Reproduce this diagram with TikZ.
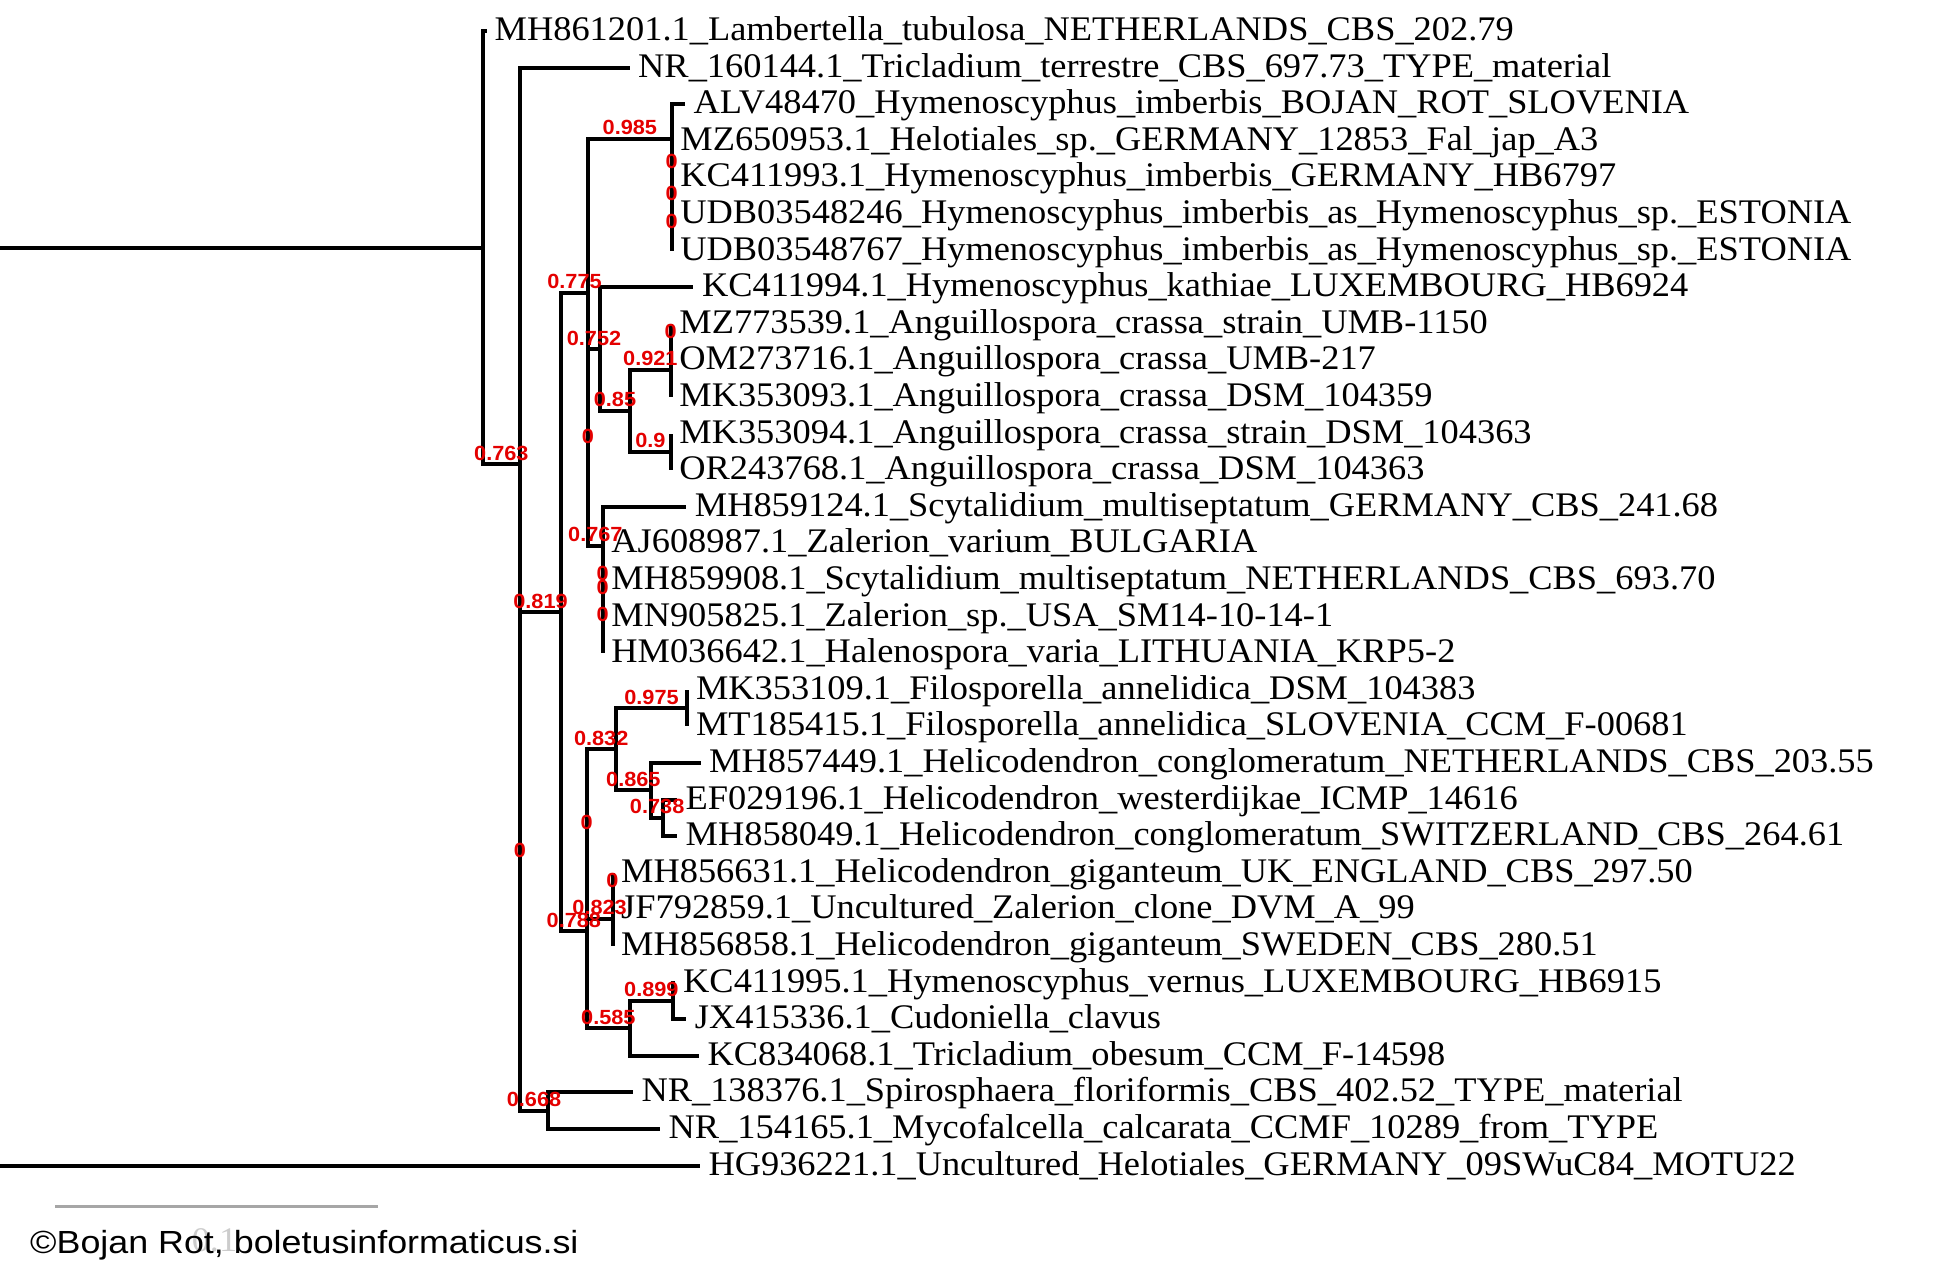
\documentclass[tikz,border=0pt]{standalone}
\usepackage{fontspec}
\setmainfont{Liberation Serif}[FakeStretch=1.055]
\newfontfamily\lblfont{Liberation Sans}[FakeStretch=1.06]
\newfontfamily\credfont{Liberation Sans}[FakeStretch=1.12]
\usetikzlibrary{calc}
\definecolor{suppred}{RGB}{228,0,0}
\begin{document}
\begin{tikzpicture}[x=1pt,y=-1pt,
  edge/.style={line width=4pt, black, line join=miter},
  tipl/.style={anchor=base west, inner sep=0pt, font=\fontsize{34.5}{38}\selectfont},
  sup/.style={inner sep=0pt, yshift=11pt, text=suppred, font=\lblfont\bfseries\fontsize{20.5}{22}\selectfont},
  scalebar/.style={line width=3.5pt, gray!70}]
\useasboundingbox (0,0) rectangle (1953,1275);
% ---------- internal nodes ----------
\coordinate (root) at (-4,706.67);
\coordinate (A)  at (482.7,247.74);
\coordinate (B)  at (520,464.49);
\coordinate (B2) at (520,861.37);
\coordinate (C)  at (561,612.03);
\coordinate (D)  at (588,292.92);
\coordinate (S)  at (671.7,138.51);
\coordinate (P1) at (671.7,172.83);
\coordinate (P2) at (671.7,204.85);
\coordinate (P3) at (671.7,232.3);
\coordinate (D2) at (588,447.33);
\coordinate (E)  at (600,348.96);
\coordinate (F)  at (630,410.73);
\coordinate (G)  at (670.7,369.55);
\coordinate (G2) at (670.7,342.1);
\coordinate (H)  at (670.7,451.9);
\coordinate (T)  at (602.7,545.69);
\coordinate (T2) at (602.7,584.58);
\coordinate (T3) at (602.7,625.75);
\coordinate (T4) at (602.7,598.3);
\coordinate (R)  at (586.7,931.14);
\coordinate (R2) at (586.7,833.92);
\coordinate (V)  at (615.7,749.28);
\coordinate (X)  at (687.3,708.1);
\coordinate (Y)  at (651,790.45);
\coordinate (Z)  at (663.3,817.9);
\coordinate (U)  at (612.5,918.55);
\coordinate (U2) at (612.5,891.1);
\coordinate (W)  at (630,1028.35);
\coordinate (AA) at (672.7,1000.9);
\coordinate (Q)  at (548,1110.7);
% ---------- tip ends ----------
\coordinate (e1)  at (486.5,31);
\coordinate (e2)  at (629.5,67.6);
\coordinate (e3)  at (685,104.2);
\coordinate (e4)  at (671.7,140.8);
\coordinate (e5)  at (671.7,177.4);
\coordinate (e6)  at (671.7,214.0);
\coordinate (e7)  at (671.7,250.6);
\coordinate (e8)  at (693.3,287.2);
\coordinate (e9)  at (670.7,323.8);
\coordinate (e10) at (670.7,360.4);
\coordinate (e11) at (670.7,397.0);
\coordinate (e12) at (670.7,433.6);
\coordinate (e13) at (670.7,470.2);
\coordinate (e14) at (686.2,506.8);
\coordinate (e15) at (602.7,543.4);
\coordinate (e16) at (602.7,580.0);
\coordinate (e17) at (602.7,616.6);
\coordinate (e18) at (602.7,653.2);
\coordinate (e19) at (687.3,689.8);
\coordinate (e20) at (687.3,726.4);
\coordinate (e21) at (700.5,763.0);
\coordinate (e22) at (677,799.6);
\coordinate (e23) at (677,836.2);
\coordinate (e24) at (612.5,872.8);
\coordinate (e25) at (612.5,909.4);
\coordinate (e26) at (612.5,946.0);
\coordinate (e27) at (674.5,982.6);
\coordinate (e28) at (686.2,1019.2);
\coordinate (e29) at (698.8,1055.8);
\coordinate (e30) at (632.8,1092.4);
\coordinate (e31) at (660,1129.0);
\coordinate (e32) at (699.8,1165.6);
% ---------- branches ----------
\draw[edge] (root) |- (A);  \draw[edge] (root) |- (e32);
\draw[edge] (A) |- (e1);    \draw[edge] (A) |- (B);
\draw[edge] (B) |- (e2);    \draw[edge] (B) |- (B2);
\draw[edge] (B2) |- (C);    \draw[edge] (B2) |- (Q);
\draw[edge] (C) |- (D);     \draw[edge] (C) |- (R);
\draw[edge] (D) |- (S);     \draw[edge] (D) |- (D2);
\draw[edge] (S) |- (e3);    \draw[edge] (S) |- (P1);
\draw[edge] (P1) |- (e4);   \draw[edge] (P1) |- (P2);
\draw[edge] (P2) |- (e5);   \draw[edge] (P2) |- (P3);
\draw[edge] (P3) |- (e6);   \draw[edge] (P3) |- (e7);
\draw[edge] (D2) |- (E);    \draw[edge] (D2) |- (T);
\draw[edge] (E) |- (e8);    \draw[edge] (E) |- (F);
\draw[edge] (F) |- (G);     \draw[edge] (F) |- (H);
\draw[edge] (G) |- (G2);    \draw[edge] (G) |- (e11);
\draw[edge] (G2) |- (e9);   \draw[edge] (G2) |- (e10);
\draw[edge] (H) |- (e12);   \draw[edge] (H) |- (e13);
\draw[edge] (T) |- (e14);   \draw[edge] (T) |- (T2);
\draw[edge] (T2) |- (e15);  \draw[edge] (T2) |- (T3);
\draw[edge] (T3) |- (T4);   \draw[edge] (T3) |- (e18);
\draw[edge] (T4) |- (e16);  \draw[edge] (T4) |- (e17);
\draw[edge] (R) |- (R2);    \draw[edge] (R) |- (W);
\draw[edge] (R2) |- (V);    \draw[edge] (R2) |- (U);
\draw[edge] (V) |- (X);     \draw[edge] (V) |- (Y);
\draw[edge] (X) |- (e19);   \draw[edge] (X) |- (e20);
\draw[edge] (Y) |- (e21);   \draw[edge] (Y) |- (Z);
\draw[edge] (Z) |- (e22);   \draw[edge] (Z) |- (e23);
\draw[edge] (U) |- (U2);    \draw[edge] (U) |- (e26);
\draw[edge] (U2) |- (e24);  \draw[edge] (U2) |- (e25);
\draw[edge] (W) |- (AA);    \draw[edge] (W) |- (e29);
\draw[edge] (AA) |- (e27);  \draw[edge] (AA) |- (e28);
\draw[edge] (Q) |- (e30);   \draw[edge] (Q) |- (e31);
% ---------- tip labels ----------
\tikzset{tipat/.style={xshift=8.5pt,yshift=-9.5pt}}
\node[tipl] (t1)  at ([xshift=8pt,yshift=-9.5pt]e1)  {MH861201.1\_Lambertella\_tubulosa\_NETHERLANDS\_CBS\_202.79};
\node[tipl] (t2)  at ([tipat]e2)  {NR\_160144.1\_Tricladium\_terrestre\_CBS\_697.73\_TYPE\_material};
\node[tipl] (t3)  at ([tipat]e3)  {ALV48470\_Hymenoscyphus\_imberbis\_BOJAN\_ROT\_SLOVENIA};
\node[tipl] (t4)  at ([tipat]e4)  {MZ650953.1\_Helotiales\_sp.\_GERMANY\_12853\_Fal\_jap\_A3};
\node[tipl] (t5)  at ([tipat]e5)  {KC411993.1\_Hymenoscyphus\_imberbis\_GERMANY\_HB6797};
\node[tipl] (t6)  at ([tipat]e6)  {UDB03548246\_Hymenoscyphus\_imberbis\_as\_Hymenoscyphus\_sp.\_ESTONIA};
\node[tipl] (t7)  at ([tipat]e7)  {UDB03548767\_Hymenoscyphus\_imberbis\_as\_Hymenoscyphus\_sp.\_ESTONIA};
\node[tipl] (t8)  at ([tipat]e8)  {KC411994.1\_Hymenoscyphus\_kathiae\_LUXEMBOURG\_HB6924};
\node[tipl] (t9)  at ([tipat]e9)  {MZ773539.1\_Anguillospora\_crassa\_strain\_UMB-1150};
\node[tipl] (t10) at ([tipat]e10) {OM273716.1\_Anguillospora\_crassa\_UMB-217};
\node[tipl] (t11) at ([tipat]e11) {MK353093.1\_Anguillospora\_crassa\_DSM\_104359};
\node[tipl] (t12) at ([tipat]e12) {MK353094.1\_Anguillospora\_crassa\_strain\_DSM\_104363};
\node[tipl] (t13) at ([tipat]e13) {OR243768.1\_Anguillospora\_crassa\_DSM\_104363};
\node[tipl] (t14) at ([tipat]e14) {MH859124.1\_Scytalidium\_multiseptatum\_GERMANY\_CBS\_241.68};
\node[tipl] (t15) at ([tipat]e15) {AJ608987.1\_Zalerion\_varium\_BULGARIA};
\node[tipl] (t16) at ([tipat]e16) {MH859908.1\_Scytalidium\_multiseptatum\_NETHERLANDS\_CBS\_693.70};
\node[tipl] (t17) at ([tipat]e17) {MN905825.1\_Zalerion\_sp.\_USA\_SM14-10-14-1};
\node[tipl] (t18) at ([tipat]e18) {HM036642.1\_Halenospora\_varia\_LITHUANIA\_KRP5-2};
\node[tipl] (t19) at ([tipat]e19) {MK353109.1\_Filosporella\_annelidica\_DSM\_104383};
\node[tipl] (t20) at ([tipat]e20) {MT185415.1\_Filosporella\_annelidica\_SLOVENIA\_CCM\_F-00681};
\node[tipl] (t21) at ([tipat]e21) {MH857449.1\_Helicodendron\_conglomeratum\_NETHERLANDS\_CBS\_203.55};
\node[tipl] (t22) at ([tipat]e22) {EF029196.1\_Helicodendron\_westerdijkae\_ICMP\_14616};
\node[tipl] (t23) at ([tipat]e23) {MH858049.1\_Helicodendron\_conglomeratum\_SWITZERLAND\_CBS\_264.61};
\node[tipl] (t24) at ([tipat]e24) {MH856631.1\_Helicodendron\_giganteum\_UK\_ENGLAND\_CBS\_297.50};
\node[tipl] (t25) at ([tipat]e25) {JF792859.1\_Uncultured\_Zalerion\_clone\_DVM\_A\_99};
\node[tipl] (t26) at ([tipat]e26) {MH856858.1\_Helicodendron\_giganteum\_SWEDEN\_CBS\_280.51};
\node[tipl] (t27) at ([tipat]e27) {KC411995.1\_Hymenoscyphus\_vernus\_LUXEMBOURG\_HB6915};
\node[tipl] (t28) at ([tipat]e28) {JX415336.1\_Cudoniella\_clavus};
\node[tipl] (t29) at ([tipat]e29) {KC834068.1\_Tricladium\_obesum\_CCM\_F-14598};
\node[tipl] (t30) at ([tipat]e30) {NR\_138376.1\_Spirosphaera\_floriformis\_CBS\_402.52\_TYPE\_material};
\node[tipl] (t31) at ([tipat]e31) {NR\_154165.1\_Mycofalcella\_calcarata\_CCMF\_10289\_from\_TYPE};
\node[tipl] (t32) at ([tipat]e32) {HG936221.1\_Uncultured\_Helotiales\_GERMANY\_09SWuC84\_MOTU22};
% ---------- support values ----------
\node[sup] (lB)  at ($(A|-B)!.5!(B)$)   {0.763};
\node[sup] (lB2) at ($(B|-B2)!.5!(B2)$) {0};
\node[sup] (lC)  at ($(B2|-C)!.5!(C)$)  {0.819};
\node[sup] (lD)  at ($(C|-D)!.5!(D)$)   {0.775};
\node[sup] (lS)  at ($(D|-S)!.5!(S)$)   {0.985};
\node[sup] (lP1) at ($(S|-P1)!.5!(P1)$) {0};
\node[sup] (lP2) at ($(P1|-P2)!.5!(P2)$) {0};
\node[sup] (lP3) at ($(P2|-P3)!.5!(P3)$) {0};
\node[sup] (lD2) at ($(D|-D2)!.5!(D2)$) {0};
\node[sup] (lE)  at ($(D2|-E)!.5!(E)$)  {0.752};
\node[sup] (lF)  at ($(E|-F)!.5!(F)$)   {0.85};
\node[sup] (lG)  at ($(F|-G)!.5!(G)$)   {0.921};
\node[sup] (lG2) at ($(G|-G2)!.5!(G2)$) {0};
\node[sup] (lH)  at ($(F|-H)!.5!(H)$)   {0.9};
\node[sup] (lT)  at ($(D2|-T)!.5!(T)$)  {0.767};
\node[sup] (lT2) at ($(T|-T2)!.5!(T2)$) {0};
\node[sup] (lT3) at ($(T2|-T3)!.5!(T3)$) {0};
\node[sup] (lT4) at ($(T3|-T4)!.5!(T4)$) {0};
\node[sup] (lR)  at ($(C|-R)!.5!(R)$)   {0.788};
\node[sup] (lR2) at ($(R|-R2)!.5!(R2)$) {0};
\node[sup] (lV)  at ($(R2|-V)!.5!(V)$)  {0.832};
\node[sup] (lX)  at ($(V|-X)!.5!(X)$)   {0.975};
\node[sup] (lY)  at ($(V|-Y)!.5!(Y)$)   {0.865};
\node[sup] (lZ)  at ($(Y|-Z)!.5!(Z)$)   {0.738};
\node[sup] (lU)  at ($(R2|-U)!.5!(U)$)  {0.823};
\node[sup] (lU2) at ($(U|-U2)!.5!(U2)$) {0};
\node[sup] (lW)  at ($(R|-W)!.5!(W)$)   {0.585};
\node[sup] (lAA) at ($(W|-AA)!.5!(AA)$) {0.899};
\node[sup] (lQ)  at ($(B2|-Q)!.5!(Q)$)  {0.668};
% ---------- scale bar and credit ----------
\coordinate (sb1) at (55,1206.7);
\coordinate (sb2) at (377.6,1206.7);
\draw[scalebar] (sb1) -- (sb2);
\node[anchor=base, inner sep=0pt, text=gray!40, font=\fontsize{34.5}{38}\selectfont] (sbl) at (214.5,1251.7) {0.1};
\node[anchor=base west, inner sep=0pt, font=\credfont\fontsize{32}{36}\selectfont] (credit) at (30,1253.3) {©Bojan Rot, boletusinformaticus.si};
\end{tikzpicture}
\end{document}
